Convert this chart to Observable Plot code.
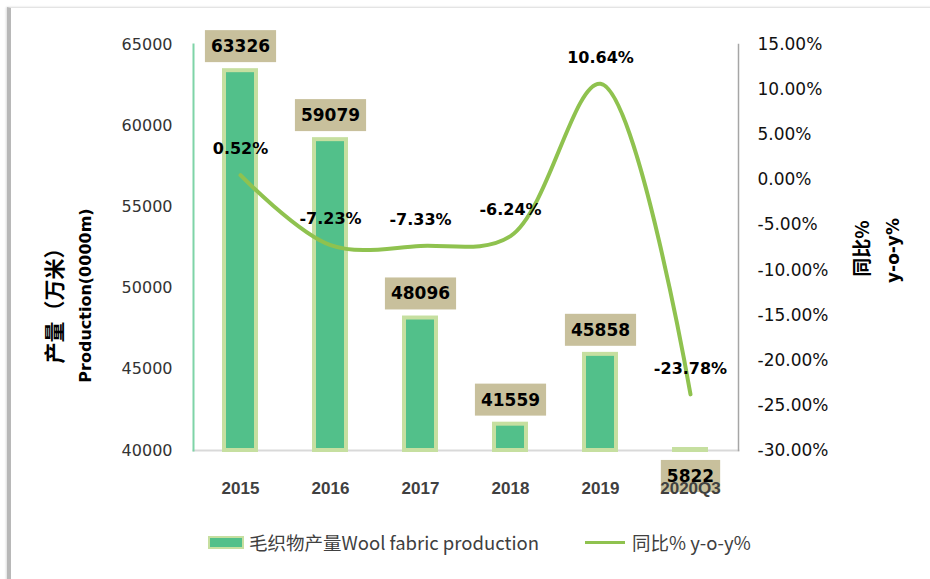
<!DOCTYPE html>
<html><head><meta charset="utf-8">
<script src="https://cdn.jsdelivr.net/npm/d3@7"></script>
<script src="https://cdn.jsdelivr.net/npm/@observablehq/plot@0.6"></script>
<style>
body{margin:0;background:#fff;}
#wrap{position:relative;width:930px;height:579px;overflow:hidden;background:#fff;}
#edge{position:absolute;left:7px;top:7px;width:940px;height:600px;border-left:4px solid #b8b8b8;border-top:1px solid #e4e4e4;box-shadow:-1px 0 2px #ddd;}
#chart{position:absolute;left:0;top:0;}
#legend{position:absolute;top:530px;left:0;width:930px;height:24px;font-family:"Noto Sans CJK SC",sans-serif;font-size:18.5px;color:#404040;}
.item{position:absolute;top:0;display:flex;align-items:center;height:24px;white-space:nowrap;}
.sw-bar{display:inline-block;width:32px;height:9px;background:#52c08a;border:2px solid #c6dfa0;margin-right:5px;}
.sw-line{display:inline-block;width:40px;height:3px;background:#8fc24f;margin-right:7px;}
</style></head>
<body><div id="wrap"><div id="edge"></div><div id="chart"></div>
<div id="legend">
<div class="item" style="left:208px"><span class="sw-bar"></span><span id="lg1"></span></div>
<div class="item" style="left:585px"><span class="sw-line"></span><span id="lg2"></span></div>
</div></div>
<script>
const categories = ["2015", "2016", "2017", "2018", "2019", "2020Q3"];
const production = [63326, 59079, 48096, 41559, 45858, 5822];
const yoy = [0.52, -7.23, -7.33, -6.24, 10.64, -23.78];
const leftTicks = [40000, 45000, 50000, 55000, 60000, 65000];
const rightTicks = [-30, -25, -20, -15, -10, -5, 0, 5, 10, 15];
const seriesNames = ["毛织物产量Wool fabric production", "同比% y-o-y%"];
const leftTitles = ["产量（万米）", "Production(0000m)"];
const rightTitles = ["同比%", "y-o-y%"];

document.getElementById("lg1").textContent = seriesNames[0];
document.getElementById("lg2").textContent = seriesNames[1];

const base = leftTicks[0], leftMax = leftTicks[leftTicks.length - 1];
const pMin = rightTicks[0], pMax = rightTicks[rightTicks.length - 1];
const toLeft = p => base + (p - pMin) * (leftMax - base) / (pMax - pMin);
const fromLeft = v => (v - base) * (pMax - pMin) / (leftMax - base) + pMin;

const rows = categories.map((c, i) => ({cat: c, prod: production[i], yoy: yoy[i]}));

const chart = Plot.plot({
  width: 930, height: 505,
  marginLeft: 193, marginRight: 192, marginTop: 44, marginBottom: 55,
  style: {fontFamily: "DejaVu Sans", background: "transparent", overflow: "visible"},
  x: {domain: categories, paddingInner: 0.64, paddingOuter: 0.32, axis: null},
  y: {domain: [base, leftMax], axis: null},
  marks: [
    Plot.frame({anchor: "bottom", stroke: "#d9d9d9", strokeWidth: 2}),
    Plot.frame({anchor: "left", stroke: "#7fd4a7", strokeWidth: 2}),
    Plot.frame({anchor: "right", stroke: "#a6a6a6", strokeWidth: 1.5}),
    Plot.axisY(leftTicks, {anchor: "left", tickSize: 0, tickPadding: 21, tickFormat: d => String(d), fontSize: 16, fill: "#333", label: null}),
    Plot.axisY(rightTicks.map(toLeft), {anchor: "right", tickSize: 0, tickPadding: 19, tickFormat: v => fromLeft(v).toFixed(2) + "%", fontSize: 17, fill: "#111", label: null}),
    Plot.barY(rows, {x: "cat", y1: () => base, y2: d => Math.max(d.prod, base), fill: "#52c08a", stroke: "#c6dfa0", strokeWidth: 4, insetTop: -1}),
    Plot.line(rows, {x: "cat", y: d => toLeft(d.yoy), stroke: "#8fc24f", strokeWidth: 4, curve: "catmull-rom"}),
    Plot.text(rows, {x: "cat", y: d => toLeft(d.yoy), text: d => d.yoy.toFixed(2) + "%", dy: -26, fontSize: 16, fontWeight: "bold", fill: "#000"}),
    Plot.text(rows, {filter: d => d.prod >= base, x: "cat", y: d => d.prod, text: d => String(d.prod), dy: -25, fontSize: 17, fontWeight: "bold", fill: "#000"}),
    Plot.text(rows, {filter: d => d.prod < base, x: "cat", y: () => base, text: d => String(d.prod), dy: 26, fontSize: 17, fontWeight: "bold", fill: "#000"}),
    Plot.axisX({tickSize: 0, tickPadding: 31, fontSize: 17, fontWeight: "bold", fontFamily: "Liberation Sans", fill: "#404040", label: null}),
    Plot.text([leftTitles[0]], {text: d => d, frameAnchor: "left", textAnchor: "middle", dx: -138, dy: 53, rotate: -90, fontSize: 21, fontWeight: "bold", fontFamily: "Noto Sans CJK SC", fill: "#000"}),
    Plot.text([leftTitles[1]], {text: d => d, frameAnchor: "left", textAnchor: "middle", dx: -108, dy: 48, rotate: -90, fontSize: 16, fontWeight: "bold", fill: "#000"}),
    Plot.text([rightTitles[0]], {text: d => d, frameAnchor: "right", textAnchor: "middle", dx: 124, dy: 1, rotate: -90, fontSize: 19, fontWeight: "bold", fontFamily: "Noto Sans CJK SC", fill: "#000"}),
    Plot.text([rightTitles[1]], {text: d => d, frameAnchor: "right", textAnchor: "middle", dx: 155, dy: 3, rotate: -90, fontSize: 17, fontWeight: "bold", fill: "#000"})
  ]
});
document.getElementById("chart").append(chart);

const labelSet = new Set(production.map(String));
chart.querySelectorAll("text").forEach(t => {
  if (!labelSet.has(t.textContent)) return;
  const b = t.getBBox();
  const r = document.createElementNS("http://www.w3.org/2000/svg", "rect");
  r.setAttribute("x", b.x - 6);
  r.setAttribute("y", b.y - 6);
  r.setAttribute("width", b.width + 12);
  r.setAttribute("height", b.height + 12);
  r.setAttribute("fill", "#c8c09c");
  r.setAttribute("stroke", "none");
  const tr = t.getAttribute("transform");
  if (tr) r.setAttribute("transform", tr);
  t.parentNode.insertBefore(r, t);
});
</script>
</body></html>
